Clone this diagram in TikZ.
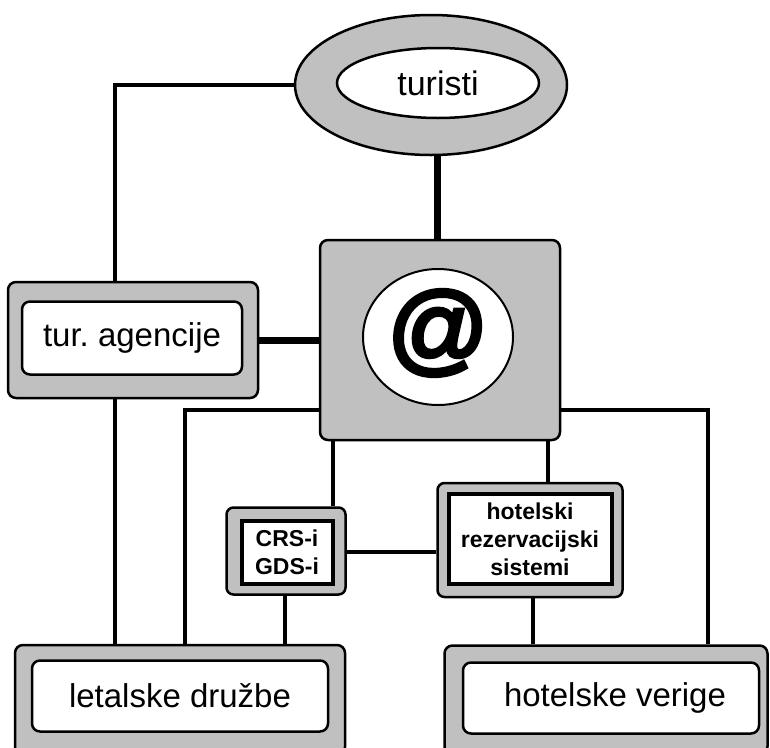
\documentclass[tikz,border=0pt]{standalone}
\usepackage{fontspec}
\setmainfont{Liberation Sans}
\newfontfamily\atfont[FakeBold=4]{Liberation Sans}
\usetikzlibrary{shapes.geometric}
\definecolor{panelgray}{RGB}{192,192,192}
\tikzset{outer box/.style={
        rectangle, rounded corners=8pt,
        draw, line width=2.5pt, fill=panelgray, inner sep=0pt
    },
    inner box/.style={
        rectangle, rounded corners=8pt,
        draw, line width=2.5pt, fill=white, inner sep=0pt,
        font=\fontsize{33}{40}\selectfont
    },
    small box/.style={
        draw, line width=4pt, fill=white, inner sep=0pt, align=center,
        font=\fontsize{23}{28}\selectfont\bfseries
    },
    link/.style={line width=4pt},
    thick link/.style={line width=7pt}
}

\begin{document}
\begin{tikzpicture}[x=1pt,y=-1pt]
        \clip (0,0) rectangle (770,747);
        \fill[white] (0,0) rectangle (770,747);
        % bends of the links
        \coordinate (c1) at (115,85);
        \coordinate (c2) at (185,410);
        \coordinate (c3) at (708,410);
        % turisti
        \node[ellipse, draw, line width=2.5pt, fill=panelgray,
            minimum width=272pt, minimum height=140pt] (turisti) at (431,85) {};
        \node[ellipse, draw, line width=2.5pt, fill=white,
            minimum width=202pt, minimum height=70pt,
            font=\fontsize{34}{40}\selectfont] (turistiIn) at (438,83) {turisti};
        % @
        \node[outer box, minimum width=240pt, minimum height=200pt] (at) at (440,340) {};
        \node[ellipse, draw, line width=2pt, fill=white,
            minimum width=150pt, minimum height=136pt] (atIn) at (438,337) {};
        \node[font=\fontsize{100}{100}\atfont] (atSign) at (438,333) {@};
        % tur. agencije
        \node[outer box, minimum width=250pt, minimum height=116pt] (agencije) at (133,340) {};
        \node[inner box, minimum width=220pt, minimum height=73pt] (agencijeIn) at (132,338) {tur.\ agencije};
        % letalske
        \node[outer box, minimum width=330pt, minimum height=110pt] (letalske) at (180,700) {};
        \node[inner box, minimum width=296pt, minimum height=71pt] (letalskeIn) at (180,696) {letalske družbe};
        % hotelske
        \node[outer box, minimum width=323pt, minimum height=109pt] (hotelske) at (606,700) {};
        \node[inner box, minimum width=296pt, minimum height=71pt] (hotelskeIn) at (611,698) {\hspace{8pt}hotelske verige};
        % CRS
        \node[outer box, rounded corners=7pt,
            minimum width=119pt, minimum height=87pt] (crs) at (286,551) {};
        \node[small box, minimum width=91pt, minimum height=63pt] (crsIn) at (287,552) {CRS-i\\GDS-i};
        % hotelski
        \node[outer box, rounded corners=7pt,
            minimum width=185pt, minimum height=114pt] (hotelski) at (530,540) {};
        \node[small box, minimum width=163pt, minimum height=90pt] (hotelskiIn) at (530,539) {hotelski\\rezervacijski\\sistemi};
        % connectors
        \draw[link] (turisti.west) -- (c1) -- (c1 |- agencije.north);
        \draw[thick link] (turisti.south -| 437,0) -- (at.north -| 437,0);
        \draw[thick link] (agencije.east) -- (at.west);
        \draw[link] (agencije.south -| c1) -- (letalske.north -| c1);
        \draw[link] (at.west |- c2) -- (c2) -- (letalske.north -| c2);
        \draw[link] (at.east |- c3) -- (c3) -- (hotelske.north -| c3);
        \draw[link] (at.south -| 333,0) -- (crs.north -| 333,0);
        \draw[link] (at.south -| 548,0) -- (hotelski.north -| 548,0);
        \draw[link] (crsIn.east -| crs.east) -- (crsIn.east -| hotelski.west);
        \draw[link] (crs.south -| 285,0) -- (letalske.north -| 285,0);
        \draw[link] (hotelski.south -| 533,0) -- (hotelske.north -| 533,0);
    \end{tikzpicture}
\end{document}
